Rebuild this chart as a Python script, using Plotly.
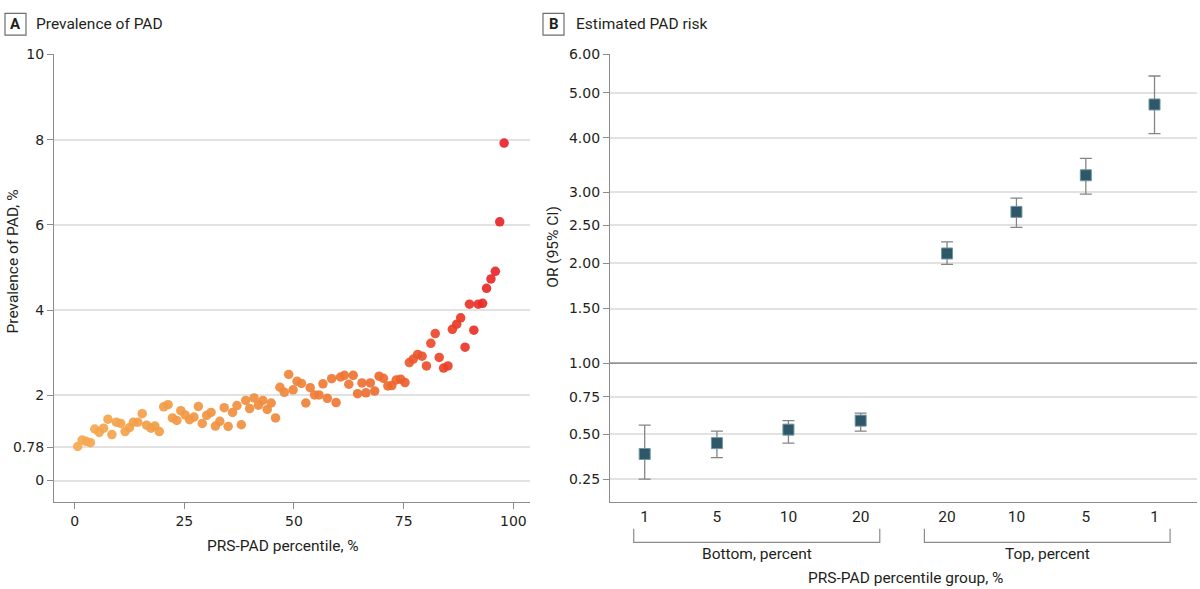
import numpy as np
import plotly.graph_objects as go

# ---------------- Panel A data: prevalence of PAD by PRS-PAD percentile ----------------
percentile = [0.7, 1.7, 2.6, 3.6, 4.6, 5.6, 6.6, 7.6, 8.5, 9.5,
              10.5, 11.5, 12.5, 13.4, 14.4, 15.4, 16.4, 17.4, 18.3, 19.3,
              20.3, 21.3, 22.3, 23.3, 24.2, 25.2, 26.2, 27.2, 28.2, 29.1,
              30.1, 31.1, 32.1, 33.1, 34.1, 35.0, 36.0, 37.0, 38.0, 39.0,
              39.9, 40.9, 41.9, 42.9, 43.9, 44.8, 45.8, 46.8, 47.8, 48.8,
              49.8, 50.7, 51.7, 52.7, 53.7, 54.7, 55.7, 56.6, 57.6, 58.6,
              59.6, 60.6, 61.5, 62.5, 63.5, 64.5, 65.5, 66.4, 67.4, 68.4,
              69.4, 70.4, 71.4, 72.3, 73.3, 74.3, 75.3, 76.3, 77.2, 78.2,
              79.2, 80.2, 81.2, 82.2, 83.1, 84.1, 85.1, 86.1, 87.1, 88.0,
              89.0, 90.0, 91.0, 92.0, 93.0, 93.9, 94.9, 95.9, 96.9, 97.9]
prevalence = [0.80, 0.95, 0.92, 0.89, 1.21, 1.13, 1.23, 1.44, 1.08, 1.37,
              1.34, 1.15, 1.24, 1.37, 1.37, 1.57, 1.30, 1.23, 1.28, 1.15,
              1.73, 1.78, 1.47, 1.41, 1.64, 1.54, 1.43, 1.49, 1.74, 1.34,
              1.53, 1.60, 1.28, 1.39, 1.71, 1.27, 1.60, 1.76, 1.31, 1.88,
              1.69, 1.94, 1.77, 1.88, 1.67, 1.82, 1.47, 2.19, 2.07, 2.49,
              2.13, 2.33, 2.28, 1.82, 2.18, 2.01, 2.01, 2.27, 1.93, 2.39,
              1.83, 2.43, 2.47, 2.26, 2.47, 2.04, 2.29, 2.06, 2.29, 2.10,
              2.45, 2.40, 2.22, 2.23, 2.36, 2.38, 2.30, 2.77, 2.85, 2.96,
              2.92, 2.69, 3.22, 3.45, 2.89, 2.64, 2.69, 3.55, 3.67, 3.82,
              3.13, 4.14, 3.53, 4.14, 4.16, 4.51, 4.73, 4.91, 6.07, 7.92]
a_xtick_vals = [0, 25, 50, 75, 100]
a_ytick_vals = [0, 0.78, 2, 4, 6, 8, 10]
a_ytick_text = ["0", "0.78", "2", "4", "6", "8", "10"]

# ---------------- Panel B data: estimated PAD risk ----------------
group_side = ["Bottom", "Bottom", "Bottom", "Bottom", "Top", "Top", "Top", "Top"]
group_label = ["1", "5", "10", "20", "20", "10", "5", "1"]
odds_ratio = [0.39, 0.45, 0.53, 0.59, 2.13, 2.70, 3.31, 4.74]
ci_low = [0.25, 0.37, 0.45, 0.52, 1.99, 2.47, 2.97, 4.09]
ci_high = [0.56, 0.52, 0.59, 0.64, 2.28, 2.91, 3.62, 5.44]
or_tick_vals = [0.25, 0.50, 0.75, 1.00, 1.50, 2.00, 2.50, 3.00, 4.00, 5.00, 6.00]
or_tick_text = ["0.25", "0.50", "0.75", "1.00", "1.50", "2.00", "2.50", "3.00", "4.00", "5.00", "6.00"]

# ---------------- layout constants (positions / styles) ----------------
W, H = 1200, 589
# custom OR scale: positions (px above bottom axis) of the OR tick values
OR_SCALE_POS = [23, 68.7, 106.7, 140.7, 196, 241.7, 280.7, 314, 369.3, 414.7, 453.5]
B_SLOT_POS = [0, 1.02, 2.03, 3.05, 4.27, 5.25, 6.23, 7.2]


def or_scale(v):
    return np.interp(np.asarray(v, dtype=float), or_tick_vals, OR_SCALE_POS)


def py(pix):  # pixel from top -> paper y
    return 1 - pix / H


def px(pix):
    return pix / W


TICK_FONT = dict(family="DejaVu Sans", size=14, color="#231f20")
LABEL_FONT = dict(family="Roboto, sans-serif", size=15.5, color="#231f20")
GRID = "#e2e2e2"
AXIS = "#8c8c8c"

fig = go.Figure()

# Panel A scatter
fig.add_trace(go.Scatter(
    x=percentile, y=prevalence, mode="markers",
    marker=dict(size=9.5, color=percentile, cmin=0, cmax=100, opacity=0.92,
                colorscale=[[0, "#F4AA50"], [0.45, "#F08A3C"], [0.72, "#EE692F"],
                            [0.85, "#EA3F27"], [1, "#E51E29"]],
                line=dict(width=0)),
    xaxis="x", yaxis="y", showlegend=False, hoverinfo="x+y"))

# Panel B OR with CI
or_pos = or_scale(odds_ratio)
hi_pos = or_scale(ci_high)
lo_pos = or_scale(ci_low)
fig.add_trace(go.Scatter(
    x=B_SLOT_POS, y=or_pos, mode="markers",
    marker=dict(symbol="square", size=11, color="#2E5867", line=dict(width=1, color="#6E96A3")),
    error_y=dict(type="data", symmetric=False, array=hi_pos - or_pos, arrayminus=or_pos - lo_pos,
                 color="#858585", thickness=1.3, width=6),
    customdata=np.stack([odds_ratio, ci_low, ci_high], axis=-1),
    text=[f"{s} {g}%" for s, g in zip(group_side, group_label)],
    hovertemplate="%{text}<br>OR %{customdata[0]:.2f} (%{customdata[1]:.2f}-%{customdata[2]:.2f})<extra></extra>",
    xaxis="x2", yaxis="y2", showlegend=False))

ydom = [py(500.7), py(47)]
fig.update_layout(
    width=W, height=H, margin=dict(l=0, r=0, t=0, b=0),
    paper_bgcolor="white", plot_bgcolor="white",
    xaxis=dict(domain=[px(54), px(530)], range=[-4.7, 103.8], tickvals=a_xtick_vals,
               showgrid=False, zeroline=False, showline=True, linecolor=AXIS, linewidth=1.2,
               ticks="outside", ticklen=6, tickcolor=AXIS, tickfont=TICK_FONT, anchor="y"),
    yaxis=dict(domain=ydom, range=[-0.5, 10], tickvals=a_ytick_vals, ticktext=a_ytick_text,
               showgrid=True, gridcolor=GRID, gridwidth=1.5, zeroline=False, showline=True,
               linecolor=AXIS, linewidth=1.2, ticks="outside", ticklen=6, tickcolor=AXIS,
               tickfont=TICK_FONT, anchor="x"),
    xaxis2=dict(domain=[px(610), px(1197)], range=[-0.49, 7.8], tickvals=B_SLOT_POS,
                ticktext=group_label, showgrid=False, zeroline=False, showline=True,
                linecolor=AXIS, linewidth=1.2, ticks="", tickfont=dict(LABEL_FONT, size=15.5),
                anchor="y2"),
    yaxis2=dict(domain=ydom, range=[0, 453.7], tickvals=list(or_scale(or_tick_vals)),
                ticktext=or_tick_text, showgrid=True, gridcolor=GRID, gridwidth=1.5,
                zeroline=False, showline=True, linecolor=AXIS, linewidth=1.2, ticks="outside",
                ticklen=6, tickcolor=AXIS, tickfont=TICK_FONT, anchor="x2"),
)

shapes = []
# reference line at OR = 1
shapes.append(dict(type="line", xref="x2 domain", yref="y2", x0=0, x1=1,
                   y0=float(or_scale(1.0)), y1=float(or_scale(1.0)),
                   line=dict(color="#7a7a7a", width=1.2), layer="above"))
# brackets under panel B x axis
for xa, xb in [(-0.155, 3.32), (3.95, 7.42)]:
    shapes.append(dict(type="path", xref="x2", yref="paper",
                       path=f"M {xa},{py(528)} L {xa},{py(541.7)} L {xb},{py(541.7)} L {xb},{py(528)}",
                       line=dict(color="#8c8c8c", width=1.2)))
# panel letter boxes
for x0 in [5, 543]:
    shapes.append(dict(type="rect", xref="paper", yref="paper", x0=px(x0), x1=px(x0 + 21),
                       y0=py(27.5), y1=py(5.5), line=dict(color="#6d6e71", width=1.2)))
fig.update_layout(shapes=shapes)


def note(text, x, y, xref="paper", angle=0, anchor="center", font=LABEL_FONT):
    return dict(text=text, x=x, y=y, xref=xref, yref="paper", xanchor=anchor, yanchor="middle",
                textangle=angle, showarrow=False, font=font)


ann = [
    note("<b>A</b>", px(15.5), py(16.5), font=dict(LABEL_FONT, size=15)),
    note("<b>B</b>", px(553.5), py(16.5), font=dict(LABEL_FONT, size=15)),
    note("Prevalence of PAD", px(34), py(16.5), anchor="left"),
    note("Estimated PAD risk", px(574), py(16.5), anchor="left"),
    note("PRS-PAD percentile, %", px(283), py(545)),
    note("Prevalence of PAD, %", px(13), py(257), angle=-90),
    note("OR (95% CI)", px(553), py(242), angle=-90),
    note("Bottom, percent", 1.58, py(554), xref="x2"),
    note("Top, percent", 5.69, py(554), xref="x2"),
    note("PRS-PAD percentile group, %", px(905), py(578)),
]
fig.update_layout(annotations=ann)

fig.write_html("out.html", config={"displayModeBar": False},
               post_script="document.body.style.margin='0px';document.body.style.overflow='hidden';")
